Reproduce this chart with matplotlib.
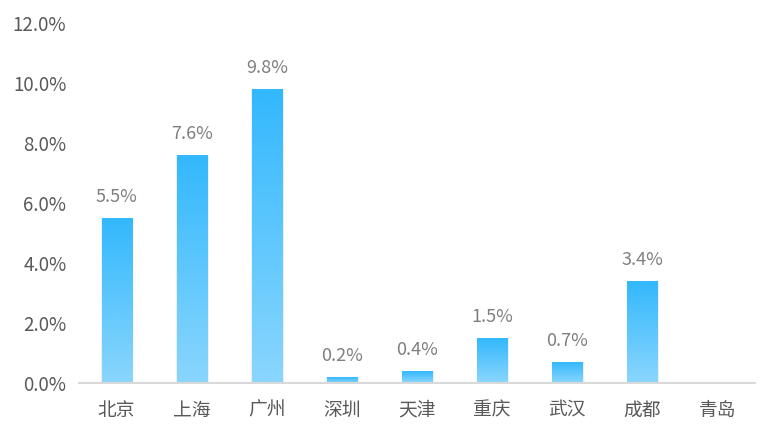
import matplotlib
matplotlib.use("Agg")
import matplotlib.pyplot as plt
import numpy as np
from matplotlib.colors import LinearSegmentedColormap

plt.rcParams['font.family'] = ['Noto Sans CJK SC', 'DejaVu Sans']

categories = ['北京', '上海', '广州', '深圳', '天津', '重庆', '武汉', '成都', '青岛']
values = [5.5, 7.6, 9.8, 0.2, 0.4, 1.5, 0.7, 3.4, 0.0]
labels = ['5.5%', '7.6%', '9.8%', '0.2%', '0.4%', '1.5%', '0.7%', '3.4%', '']
yticks = [0, 2, 4, 6, 8, 10, 12]
ytick_labels = ['0.0%', '2.0%', '4.0%', '6.0%', '8.0%', '10.0%', '12.0%']

fig = plt.figure(figsize=(7.78, 4.32), dpi=100)
ax = fig.add_axes([79/778, 49/432, 676/778, 360/432])

cmap = LinearSegmentedColormap.from_list('g', ['#8ad6fd', '#33b8fd'])
grad = np.linspace(0, 1, 256).reshape(-1, 1)
w = 0.4
x = np.arange(len(categories))
for xi, v in zip(x, values):
    if v <= 0:
        continue
    # soft shadow
    ax.bar(xi + 0.01, v, width=w + 0.03, bottom=0, color='#c8d3dc', alpha=0.35,
           linewidth=0, zorder=1)
    ax.imshow(grad, extent=(xi - w/2, xi + w/2, 0, v), origin='lower',
              cmap=cmap, aspect='auto', zorder=2, interpolation='bicubic')

for xi, v, lab in zip(x, values, labels):
    if lab:
        ax.text(xi, v + 0.4, lab, ha='center', va='bottom', fontsize=13,
                color='#7f7f7f')

ax.set_xlim(-0.5, len(categories) - 0.5)
ax.set_ylim(0, 12)
ax.set_yticks(yticks)
ax.set_yticklabels(ytick_labels)
ax.set_xticks(x)
ax.set_xticklabels(categories)
ax.tick_params(axis='both', length=0, labelsize=13.5, labelcolor='#595959')
ax.tick_params(axis='y', pad=9)
ax.tick_params(axis='x', pad=12)
for s in ['top', 'right', 'left']:
    ax.spines[s].set_visible(False)
ax.spines['bottom'].set_color('#d9d9d9')
ax.spines['bottom'].set_linewidth(1.5)

fig.savefig('out.png', dpi=100)
